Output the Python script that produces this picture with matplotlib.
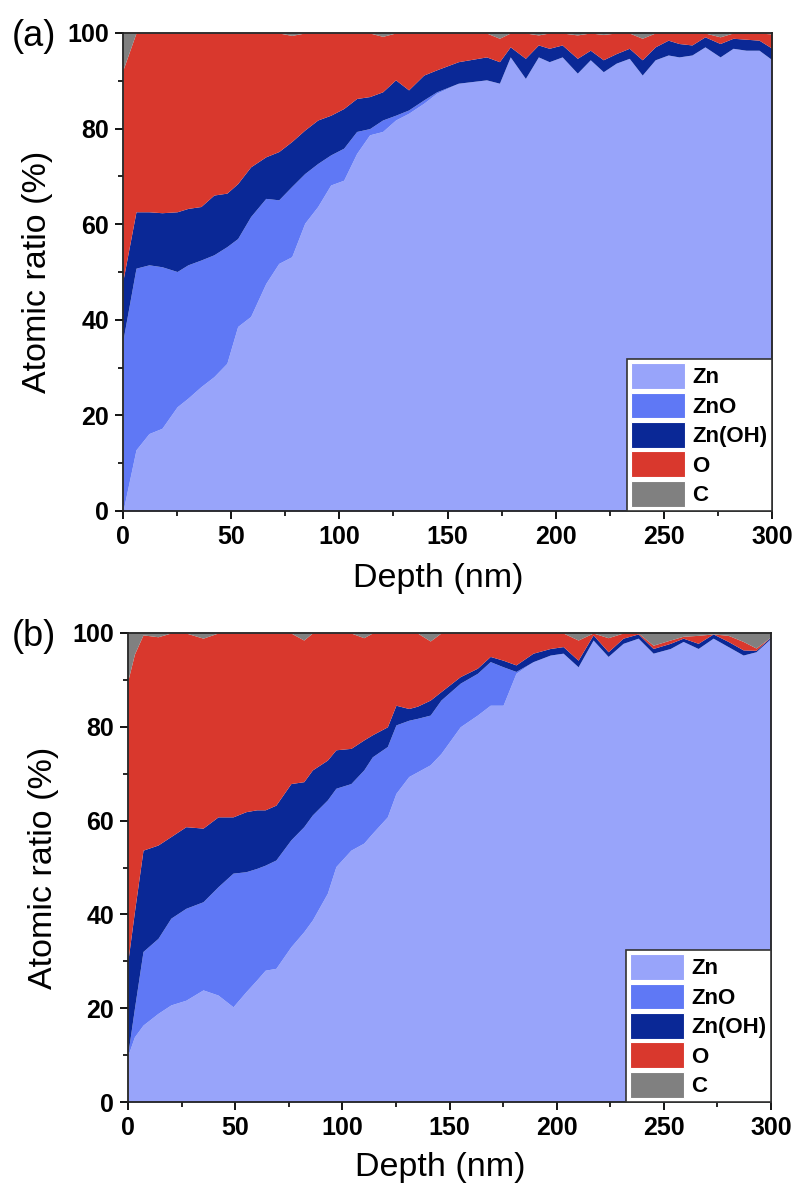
import matplotlib
matplotlib.use("Agg")
import matplotlib.pyplot as plt
from matplotlib.patches import Patch
from matplotlib.ticker import MultipleLocator

plt.rcParams['font.family'] = ['Liberation Sans', 'DejaVu Sans']

labels = ['Zn', 'ZnO', 'Zn(OH)', 'O', 'C']
colors = ['#98A4FA', '#5F78F5', '#0A2896', '#D9382D', '#808080']

# ---- Panel (a): cumulative upper boundaries (%) ----
depth_a = [0, 6, 12, 18, 25, 30, 36, 42, 48, 53, 59, 66, 72, 78, 84, 90, 96, 102, 108, 114,
           120, 126, 132, 139, 145, 155, 168, 174, 179, 186, 192, 197, 203, 210, 216, 222,
           228, 234, 240, 246, 252, 257, 263, 269, 276, 282, 288, 294, 300]
zn_a = [0, 12.8, 16.2, 17.3, 21.8, 23.6, 26.0, 28.1, 30.9, 38.6, 40.7, 47.6, 51.8, 53.2, 60.2,
        63.7, 68.2, 69.2, 74.8, 78.7, 79.4, 81.8, 83.2, 85.3, 87.4,
        89.5, 90.2, 89.5, 95.0, 90.5, 95.0, 94.0, 95.0, 91.6, 94.4, 91.9, 93.7, 94.7, 91.2,
        94.4, 95.4, 95.0, 95.4, 97.1, 95.0, 96.8, 96.4, 96.4, 94.4]
zno_a = [35.8, 50.8, 51.5, 51.1, 50.1, 51.5, 52.5, 53.6, 55.3, 57.0, 61.6, 65.4, 65.1, 67.9,
         70.6, 72.7, 74.5, 75.9, 79.4, 80.0, 81.8, 82.8, 83.9, 86.0, 87.7,
         89.5, 90.2, 89.5, 95.0, 90.5, 95.0, 94.0, 95.0, 91.6, 94.4, 91.9, 93.7, 94.7, 91.2,
         94.4, 95.4, 95.0, 95.4, 97.1, 95.0, 96.8, 96.4, 96.4, 94.4]
znoh_a = [48.3, 62.6, 62.6, 62.4, 62.6, 63.3, 63.7, 66.1, 66.5, 68.5, 72.0, 74.1, 75.2, 77.3,
          79.7, 81.8, 82.8, 84.2, 86.3, 86.7, 87.7, 90.2, 88.1, 91.2, 92.3,
          94.0, 95.0, 94.0, 97.1, 94.7, 97.5, 96.8, 97.5, 94.7, 96.4, 94.4, 95.7, 96.8, 94.4,
          97.1, 98.5, 97.8, 97.5, 99.2, 97.8, 98.9, 98.7, 98.5, 96.8]
o_a = [92.3, 100, 100, 100, 100, 100, 100, 100, 100, 100, 100, 100, 100, 99.5, 100, 100, 100,
       100, 100, 100, 99.3, 100, 100, 100, 100,
       100, 100, 98.9, 100, 100, 99.6, 100, 100, 99.6, 100, 99.7, 100, 100, 98.9,
       100, 100, 100, 100, 100, 99.2, 100, 100, 100, 99.8]

# ---- Panel (b): cumulative upper boundaries (%) ----
depth_b = [0, 3, 7, 14, 20, 27, 35, 42, 49, 55, 60, 64, 69, 76, 82, 86, 93, 97, 104, 110, 114,
           121, 125, 131, 135, 141, 146, 155, 163, 169, 175, 181, 189, 197, 203, 210, 217, 224,
           231, 238, 245, 253, 259, 266, 273, 280, 287, 293, 300]
zn_b = [10.0, 13.9, 16.4, 18.9, 20.7, 21.7, 23.9, 22.8, 20.3, 23.5, 26.0, 28.1, 28.5, 33.1,
        36.3, 38.8, 44.5, 50.2, 53.7, 55.2, 57.3, 60.8, 65.8, 69.4, 70.4, 71.9,
        74.3, 80.0, 82.5, 84.6, 84.6, 91.4, 93.9, 95.3, 95.7, 92.8, 98.5, 95.0, 97.8, 98.9,
        95.7, 96.7, 98.2, 96.7, 98.9, 97.1, 95.3, 96.0, 98.9]
zno_b = [10.5, 20.0, 32.1, 34.9, 39.2, 41.3, 42.7, 45.9, 48.8, 49.1, 49.8, 50.5, 51.6, 55.9,
         58.7, 61.2, 64.4, 66.9, 67.9, 70.8, 73.6, 75.8, 80.4, 81.4, 81.8, 82.5,
         85.7, 89.3, 91.4, 93.9, 92.8, 91.8, 93.9, 95.3, 95.7, 92.8, 98.5, 95.0, 97.8, 98.9,
         95.7, 96.7, 98.2, 96.7, 98.9, 97.1, 95.3, 96.0, 98.9]
znoh_b = [30.3, 40.6, 53.7, 54.8, 56.6, 58.7, 58.4, 60.8, 60.8, 61.9, 62.3, 62.3, 63.3, 67.9,
          68.3, 70.8, 72.9, 75.1, 75.4, 77.2, 78.3, 80.0, 84.6, 83.9, 84.4, 85.7,
          87.5, 90.7, 92.5, 95.0, 94.2, 93.2, 95.7, 96.7, 97.1, 94.2, 99.6, 96.0, 98.9, 99.8,
          96.7, 97.8, 98.9, 97.8, 99.8, 98.2, 96.4, 96.3, 99.2]
o_b = [90.0, 95.5, 99.6, 99.2, 100, 100, 98.9, 100, 100, 100, 100, 100, 100, 100, 98.5, 100,
       100, 100, 100, 99.0, 100, 100, 100, 100, 100, 98.3,
       100, 100, 100, 100, 100, 100, 100, 100, 100, 98.5, 100, 99.0, 100, 100, 97.4, 98.5,
       99.3, 99.5, 99.8, 99.5, 98.2, 96.8, 99.2]

xticks = [0, 50, 100, 150, 200, 250, 300]
yticks = [0, 20, 40, 60, 80, 100]

fig = plt.figure(figsize=(8, 12.03), dpi=100)
ax_a = fig.add_axes([123/800, 1-511/1203, (772-123)/800, (511-33)/1203])
ax_b = fig.add_axes([128/800, 1-1102/1203, (771-128)/800, (1102-633)/1203])


def draw(ax, depth, zn, zno, znoh, o, xlab_y):
    bounds = [[0]*len(depth), zn, zno, znoh, o, [100]*len(depth)]
    for i, c in enumerate(colors):
        ax.fill_between(depth, bounds[i], bounds[i+1], color=c, lw=0, zorder=1)
    ax.set_xlim(0, 300)
    ax.set_ylim(0, 100)
    ax.set_xticks(xticks)
    ax.set_yticks(yticks)
    ax.xaxis.set_minor_locator(MultipleLocator(25))
    ax.yaxis.set_minor_locator(MultipleLocator(10))
    ax.tick_params(which='major', direction='out', length=6, width=1.3, labelsize=18, pad=4)
    ax.tick_params(which='minor', direction='out', length=3.5, width=1.2)
    for lab in ax.get_xticklabels() + ax.get_yticklabels():
        lab.set_fontweight('bold')
    for s in ax.spines.values():
        s.set_linewidth(1.3)
        s.set_color('#222222')
        s.set_zorder(5)
    ax.set_xlabel('Depth (nm)', fontsize=24.5)
    ax.set_ylabel('Atomic ratio (%)', fontsize=24.5)
    ax.xaxis.set_label_coords(0.485, xlab_y)
    ax.yaxis.set_label_coords(-0.108, 0.5)
    handles = [Patch(facecolor=c, edgecolor='white', lw=0.8) for c in colors]
    leg = ax.legend(handles, labels, loc='lower right', borderaxespad=0, fancybox=False,
                    framealpha=1, edgecolor='#333333', handlelength=2.4, handleheight=1.4,
                    labelspacing=0.17, borderpad=0.2, handletextpad=0.35,
                    prop={'weight': 'bold', 'size': 16})
    leg.get_frame().set_linewidth(1.2)
    leg.set_zorder(10)


draw(ax_a, depth_a, zn_a, zno_a, znoh_a, o_a, -0.108)
draw(ax_b, depth_b, zn_b, zno_b, znoh_b, o_b, -0.107)

fig.text(12/800, 1-36/1203, '(a)', fontsize=26, va='center', ha='left')
fig.text(12/800, 1-636/1203, '(b)', fontsize=26, va='center', ha='left')

fig.savefig('out.png', dpi=100)
